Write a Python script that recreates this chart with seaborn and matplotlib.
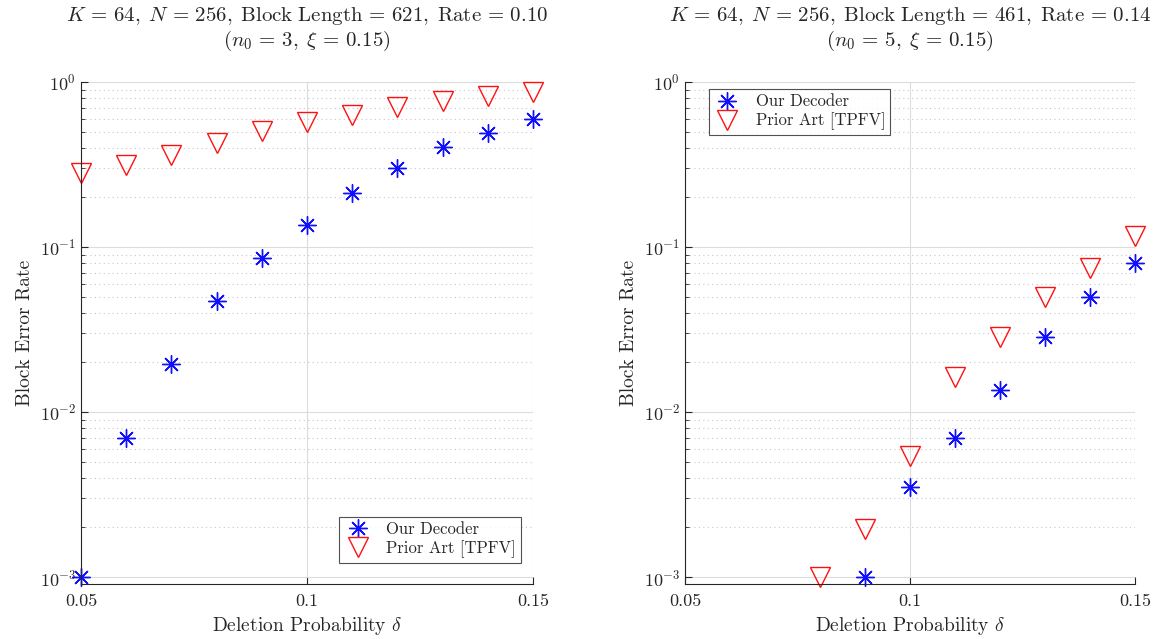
import matplotlib
matplotlib.use("Agg")
import matplotlib.pyplot as plt
import numpy as np
import pandas as pd
import seaborn as sns
from matplotlib.ticker import LogLocator, NullFormatter

# data
delta_left = [0.05, 0.06, 0.07, 0.08, 0.09, 0.10, 0.11, 0.12, 0.13, 0.14, 0.15]
ours_left = [1.0e-3, 7.0e-3, 0.0195, 0.047, 0.086, 0.136, 0.212, 0.301, 0.404, 0.491, 0.597]
prior_left = [0.281, 0.314, 0.361, 0.427, 0.505, 0.572, 0.631, 0.705, 0.767, 0.822, 0.870]

delta_ours_right = [0.09, 0.10, 0.11, 0.12, 0.13, 0.14, 0.15]
ours_right = [1.0e-3, 3.5e-3, 7.0e-3, 0.0136, 0.0285, 0.0498, 0.080]
delta_prior_right = [0.08, 0.09, 0.10, 0.11, 0.12, 0.13, 0.14, 0.15]
prior_right = [1.0e-3, 1.95e-3, 5.4e-3, 0.0163, 0.0285, 0.050, 0.0746, 0.117]

titles = [
    "$K\\,=\\,64,\\;N\\,=\\,256,\\;\\mathrm{Block\\ Length}\\,=\\,621,\\;\\mathrm{Rate}\\,=\\,0.10$\n"
    "$(n_0\\,=\\,3,\\;\\xi\\,=\\,0.15)$",
    "$K\\,=\\,64,\\;N\\,=\\,256,\\;\\mathrm{Block\\ Length}\\,=\\,461,\\;\\mathrm{Rate}\\,=\\,0.14$\n"
    "$(n_0\\,=\\,5,\\;\\xi\\,=\\,0.15)$",
]
x_ticks = [0.05, 0.1, 0.15]
x_tick_labels = ["0.05", "0.1", "0.15"]

sns.set_style("white")
plt.rcParams["font.family"] = ["cmr10", "DejaVu Serif"]
plt.rcParams["mathtext.fontset"] = "cm"
plt.rcParams["axes.unicode_minus"] = False
plt.rcParams["axes.formatter.use_mathtext"] = True

fig = plt.figure(figsize=(11.56, 6.39), dpi=100)
ax_l = fig.add_axes([81 / 1156, 55 / 639, 452 / 1156, 502 / 639])
ax_r = fig.add_axes([685 / 1156, 55 / 639, 450 / 1156, 502 / 639])

asterisk = (8, 2, 0)


def draw_panel(ax, xo, yo, xp, yp, title):
    sns.lineplot(x=xo, y=yo, ax=ax, linestyle="", marker=asterisk, markersize=13,
                 markeredgecolor="#1010ff", markeredgewidth=1.0, color="#1010ff",
                 label="Our Decoder", clip_on=False)
    sns.lineplot(x=xp, y=yp, ax=ax, linestyle="", marker="v", markersize=15,
                 markerfacecolor="none", markeredgecolor="#ff1010", markeredgewidth=1.0,
                 color="#ff1010", label="Prior Art [TPFV]", clip_on=False)
    ax.set_yscale("log")
    ax.set_xlim(0.05, 0.15)
    ax.set_ylim(10 ** -3.042, 1)
    ax.set_xticks(x_ticks)
    ax.set_xticklabels(x_tick_labels)
    ax.set_yticks([1e-3, 1e-2, 1e-1, 1])
    ax.yaxis.set_minor_locator(LogLocator(base=10, subs=np.arange(2, 10), numticks=20))
    ax.yaxis.set_minor_formatter(NullFormatter())
    ax.grid(True, which="major", color="#dcdcdc", linewidth=0.8, linestyle="-")
    ax.grid(True, which="minor", axis="y", color="#c8c8c8", linewidth=0.8, linestyle=(0, (1, 3)))
    ax.set_axisbelow(True)
    for side in ["top", "right"]:
        ax.spines[side].set_visible(False)
    for side in ["left", "bottom"]:
        ax.spines[side].set_color("#262626")
        ax.spines[side].set_linewidth(0.8)
    ax.tick_params(which="both", direction="in", colors="#262626", labelsize=13,
                   left=True, bottom=True)
    ax.tick_params(which="major", length=5)
    ax.tick_params(which="minor", length=3)
    ax.tick_params(axis="x", labelsize=13, pad=7)
    ax.set_xlabel("Deletion Probability $\\delta$", fontsize=14, color="#262626")
    ax.set_ylabel("Block Error Rate", fontsize=14, color="#262626")
    ax.set_title(title, fontsize=15, color="#262626", pad=26, linespacing=1.1)


draw_panel(ax_l, delta_left, ours_left, delta_left, prior_left, titles[0])
draw_panel(ax_r, delta_ours_right, ours_right, delta_prior_right, prior_right, titles[1])

leg_kw = dict(fontsize=12, frameon=True, fancybox=False, edgecolor="#262626",
              borderaxespad=0, handletextpad=0.9, borderpad=0.3, labelspacing=0.2,
              handlelength=1.6)
leg = ax_l.legend(loc="lower right", bbox_to_anchor=(0.973, 0.042), **leg_kw)
leg.get_frame().set_linewidth(0.8)
leg = ax_r.legend(loc="upper left", bbox_to_anchor=(0.053, 0.986), **leg_kw)
leg.get_frame().set_linewidth(0.8)

fig.savefig("out.png", dpi=100)
